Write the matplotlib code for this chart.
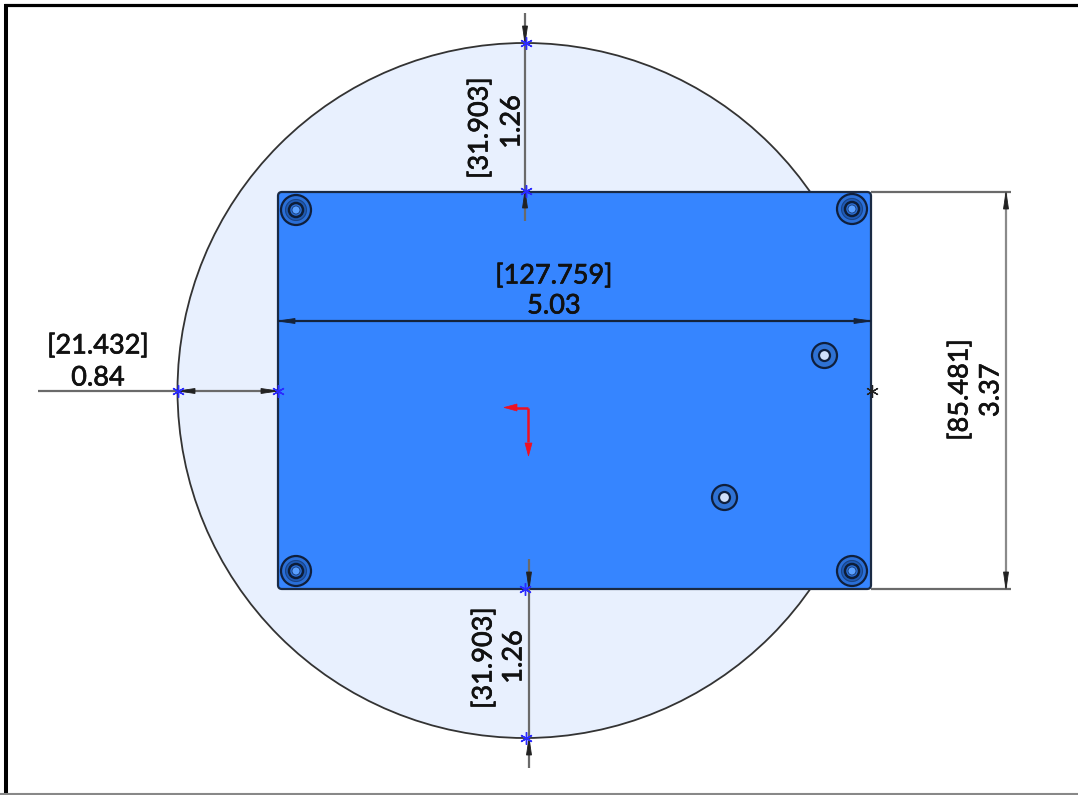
import matplotlib
matplotlib.use("Agg")
import matplotlib.pyplot as plt
import matplotlib.patheffects as pe
from matplotlib.patches import Circle, FancyBboxPatch, Polygon, Rectangle

plt.rcParams['font.family'] = ['Lato', 'DejaVu Sans']

WIDTH, HEIGHT = 1078, 795

# geometry (image pixel units)
disc_center = (525, 390.5)
disc_radius = 347.5
plate_x = [278, 871]
plate_y = [192, 589]
screw_holes = [(296, 210), (852, 209), (296, 571), (852, 571)]
small_holes = [(824.5, 355.5), (724.5, 497.5)]
blue_marks = [(526, 43), (526, 191), (178, 391), (278, 391), (525, 589), (526, 738)]
black_marks = [(872, 391)]

# dimension labels: bracketed mm, inches, position, rotation
dim_mm = ["[31.903]", "[127.759]", "[21.432]", "[85.481]", "[31.903]"]
dim_in = ["1.26", "5.03", "0.84", "3.37", "1.26"]
mm_pos = [(480, 128), (554, 276), (98, 346), (960, 390), (484, 658)]
in_pos = [(512, 122), (554, 306), (98, 378), (991, 390), (514, 657)]
dim_rot = [90, 0, 0, 90, 90]

BLUE = "#3685FF"
DISC = "#E8F0FE"
LINE = "#6a6a6a"

fig = plt.figure(figsize=(WIDTH / 100, HEIGHT / 100), dpi=100)
ax = fig.add_axes([0, 0, 1, 1])
ax.set_xlim(0, WIDTH)
ax.set_ylim(HEIGHT, 0)
ax.axis("off")

disc = Circle(disc_center, disc_radius, fc=DISC, ec="#333333", lw=1.3, zorder=1)
ax.add_patch(disc)
disc.set_clip_path(Rectangle((0, 0), plate_x[1] - 2, HEIGHT, transform=ax.transData))
ax.add_patch(FancyBboxPatch((plate_x[0], plate_y[0]), plate_x[1] - plate_x[0], plate_y[1] - plate_y[0],
                            boxstyle="round,pad=0,rounding_size=4", fc=BLUE, ec="#1a2a44", lw=1.6, zorder=2))

for c in screw_holes:
    ax.add_patch(Circle(c, 15, fc="#2a6fd8", ec="#0f1f3c", lw=1.6, zorder=3))
    ax.add_patch(Circle(c, 10.5, fc="#1f5ab4", ec="#1a4486", lw=0.8, zorder=3))
    ax.add_patch(Circle(c, 7, fc="#2a6fd8", ec="#0d1d38", lw=1.8, zorder=3))
    ax.add_patch(Circle(c, 4, fc="#5aa0ff", ec="#1a3c74", lw=0.6, zorder=3))
for c in small_holes:
    ax.add_patch(Circle(c, 12.5, fc="#2f72d4", ec="#0f1f3c", lw=1.6, zorder=3))
    ax.add_patch(Circle(c, 5.5, fc="#cfe0fb", ec="#0f1f3c", lw=1.6, zorder=3))


def seg(p, q, color=LINE, lw=1.6, z=4):
    ax.plot([p[0], q[0]], [p[1], q[1]], color=color, lw=lw, zorder=z, solid_capstyle="butt")


def arrow(tip, base, color="#222222", half=2.5):
    dx, dy = base[0] - tip[0], base[1] - tip[1]
    n = (dx * dx + dy * dy) ** 0.5
    ox, oy = -dy / n * half, dx / n * half
    ax.add_patch(Polygon([tip, (base[0] + ox, base[1] + oy), (base[0] - ox, base[1] - oy)],
                         closed=True, fc=color, ec=color, lw=0.6, zorder=5))


# top vertical dimension
seg((525, 13), (525, 221))
arrow((525, 43), (525, 26)); arrow((525, 191), (525, 208))
# bottom vertical dimension
seg((529, 559), (529, 768))
arrow((529, 589), (529, 572)); arrow((529, 738), (529, 755))
# left horizontal dimension
seg((38, 391), (278, 391))
arrow((178, 391), (195, 391)); arrow((278, 391), (261, 391))
# plate width dimension
seg((278, 321), (871, 321), color="#14233c", lw=1.6)
arrow((278, 321), (295, 321), color="#14233c"); arrow((871, 321), (854, 321), color="#14233c")
# plate height dimension
seg((871, 192), (1011, 192)); seg((871, 589), (1011, 589))
seg((1006, 192), (1006, 589), color="#8a8a8a")
arrow((1006, 192), (1006, 209)); arrow((1006, 589), (1006, 572))

# origin arrows
seg((528, 408), (528, 442), color="#f01020", lw=1.8, z=6)
seg((528, 408), (516, 408), color="#f01020", lw=1.8, z=6)
ax.add_patch(Polygon([(504, 407.5), (517, 404), (517, 411)], fc="#f01020", ec="#f01020", lw=0.5, zorder=6))
ax.add_patch(Polygon([(528.5, 456), (525, 443), (532, 443)], fc="#f01020", ec="#f01020", lw=0.5, zorder=6))

for (x, y) in blue_marks:
    ax.plot(x, y, marker=(6, 2, 0), ms=9, mew=1.0, color="#2a2aff", zorder=7)
for (x, y) in black_marks:
    ax.plot(x, y, marker=(6, 2, 0), ms=9, mew=0.9, color="#222222", zorder=7)

bolder = [pe.withStroke(linewidth=0.5, foreground="#111111")]
for t, p, r in zip(dim_mm, mm_pos, dim_rot):
    ax.text(p[0], p[1], t, rotation=r, ha="center", va="center", fontsize=19.5, color="#111111",
            zorder=8, path_effects=bolder)
for t, p, r in zip(dim_in, in_pos, dim_rot):
    ax.text(p[0], p[1], t, rotation=r, ha="center", va="center", fontsize=19.5, color="#111111",
            zorder=8, path_effects=bolder)

# outer frame, open on the right
seg((5.5, 795), (5.5, 4), color="black", lw=2.9, z=9)
seg((4, 5), (1078, 5), color="black", lw=2.3, z=9)
seg((0, 794), (1078, 794), color="#888888", lw=1.5, z=9)

fig.savefig("out.png", dpi=100)
